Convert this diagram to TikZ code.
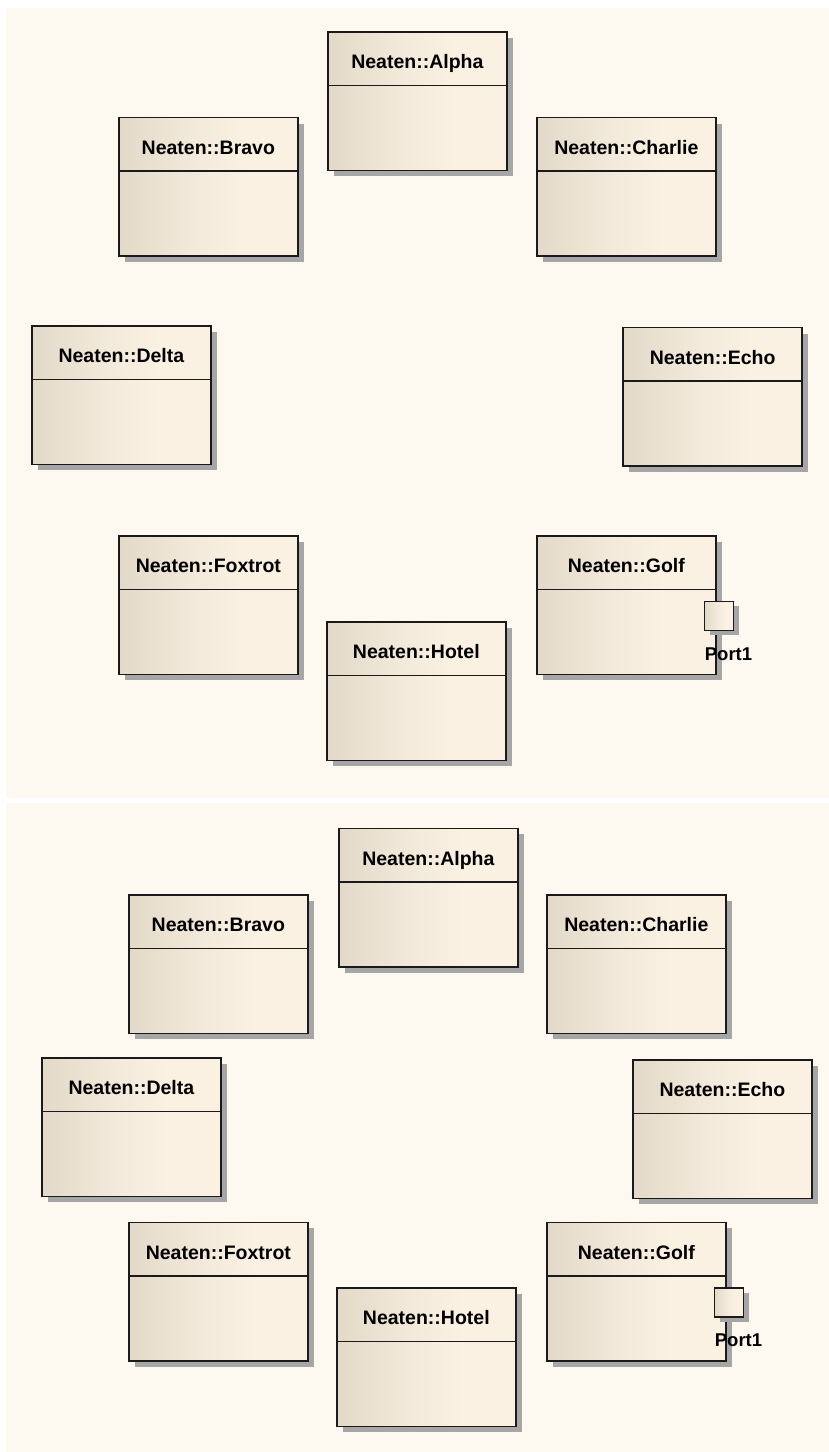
\documentclass[tikz,border=0pt]{standalone}
\usepackage{fontspec}
\setmainfont{Liberation Sans}
\usetikzlibrary{shadows}
\definecolor{bgc}{HTML}{FDF9F1}
\definecolor{boxl}{HTML}{E3D9C9}
\definecolor{boxm}{HTML}{F3E9DA}
\definecolor{boxr}{HTML}{FBF1E3}
\definecolor{linec}{HTML}{1A1A1A}
\definecolor{shadowc}{HTML}{A6A6A6}
\pgfdeclarehorizontalshading{boxshade}{100bp}{color(0bp)=(boxl); color(25bp)=(boxl); color(45bp)=(boxm); color(60bp)=(boxr); color(100bp)=(boxr)}
\tikzset{
  classbox/.style={rectangle, anchor=north west, minimum width=179pt, minimum height=138.5pt,
    inner sep=0pt, draw=linec, line width=1.7pt, shading=boxshade,
    drop shadow={shadow xshift=6pt, shadow yshift=-6pt, fill=shadowc, opacity=1}},
  portbox/.style={rectangle, anchor=north west, minimum width=29pt, minimum height=29pt,
    inner sep=0pt, draw=linec, line width=1.7pt, shading=boxshade,
    drop shadow={shadow xshift=5pt, shadow yshift=-5pt, fill=shadowc, opacity=1}},
  divline/.style={draw=linec, line width=1.7pt},
  hdr/.style={anchor=base, inner sep=0pt, font=\bfseries\fontsize{19.5}{22}\selectfont},
  portlbl/.style={anchor=base west, inner sep=0pt, font=\bfseries\fontsize{18.5}{22}\selectfont}
}
\newcommand\umlclass[4]{%
  \node[classbox] (#1) at (#2,#3) {};
  \draw[divline] ([yshift=-54.5pt]#1.north west) -- ([yshift=-54.5pt]#1.north east);
  \node[hdr] (#1-t) at ([yshift=-37.5pt]#1.north) {Neaten::#4};
}
\newcommand\umlport[1]{%
  \node[portbox] (#1-port) at ([xshift=-13pt,yshift=-65.5pt]#1.north east) {};
  \node[portlbl] (#1-portlbl) at ([xshift=-12pt,yshift=-125pt]#1.north east) {Port1};
}
\begin{document}
\begin{tikzpicture}[x=1pt,y=-1pt]
\useasboundingbox (0,0) rectangle (829,1452);
\fill[white] (0,0) rectangle (829,1452);
\fill[bgc] (6,8) rectangle (829,798);
\fill[bgc] (6,803) rectangle (829,1452);
% top panel
\umlclass{tA}{327}{31}{Alpha}
\umlclass{tB}{118}{116.7}{Bravo}
\umlclass{tC}{536}{116.7}{Charlie}
\umlclass{tD}{31}{325}{Delta}
\umlclass{tE}{622.3}{326.7}{Echo}
\umlclass{tF}{118}{535}{Foxtrot}
\umlclass{tG}{536}{535}{Golf}
\umlport{tG}
\umlclass{tH}{326}{621}{Hotel}
% bottom panel
\umlclass{bA}{338}{827.5}{Alpha}
\umlclass{bB}{128}{894}{Bravo}
\umlclass{bC}{546}{894}{Charlie}
\umlclass{bD}{41}{1057}{Delta}
\umlclass{bE}{632}{1059}{Echo}
\umlclass{bF}{128}{1221.5}{Foxtrot}
\umlclass{bG}{546}{1221.5}{Golf}
\umlport{bG}
\umlclass{bH}{336}{1287}{Hotel}
\end{tikzpicture}
\end{document}
